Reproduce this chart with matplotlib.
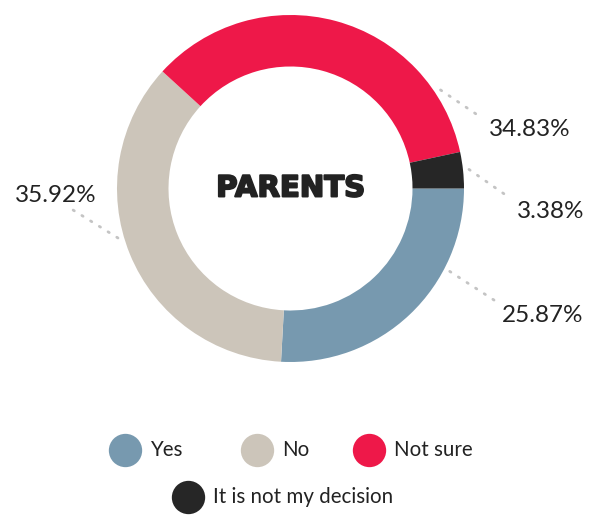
import numpy as np
import matplotlib
matplotlib.use("Agg")
import matplotlib.pyplot as plt
import matplotlib.patheffects as pe

categories = ["Yes", "No", "Not sure", "It is not my decision"]
shares = [25.87, 35.92, 34.83, 3.38]
colors = ["#7799af", "#ccc5ba", "#ee1849", "#262626"]

# label layout (pixel space, y up): leader start angle, leader end, text anchor
leader_angle = [-27.5, 196, 33.3, 6.1]
leader_end = [(497, 213), (73, 305), (482, 397), (510, 317)]
text_pos = [(502, 199), (97, 319), (489, 385), (517, 304)]
text_ha = ["left", "right", "left", "left"]

W, H = 592, 515
cx, cy, R = 290.5, 326.5, 173.5

fig = plt.figure(figsize=(W / 100, H / 100), dpi=100)
ax = fig.add_axes([0, 0, 1, 1])

ax.pie(shares, colors=colors, startangle=0, counterclock=False,
       center=(cx, cy), radius=R, frame=True,
       wedgeprops=dict(width=51.5, linewidth=0))
ax.set_xlim(0, W)
ax.set_ylim(0, H)
ax.set_aspect("equal")
ax.axis("off")

ax.text(cx, cy, "PARENTS", ha="center", va="center", fontsize=21,
        fontweight="bold", family="DejaVu Sans", color="#222222",
        path_effects=[pe.withStroke(linewidth=1.4, foreground="#222222")])

for share, ang, end, pos, ha in zip(shares, leader_angle, leader_end, text_pos, text_ha):
    a = np.deg2rad(ang)
    sx, sy = cx + (R + 6) * np.cos(a), cy + (R + 6) * np.sin(a)
    ax.plot([sx, end[0]], [sy, end[1]], color="#c4c4c4", lw=2,
            linestyle=(0, (0.5, 3.2)), dash_capstyle="round")
    ax.text(pos[0], pos[1], f"{share:.2f}%", ha=ha, va="center",
            fontsize=17.5, family="Lato", color="#222222")

# legend: three on first row, last one centered below
legend_xy = [(125, 65), (257, 65), (369, 65), (188, 18)]
for cat, col, (lx, ly) in zip(categories, colors, legend_xy):
    ax.scatter([lx], [ly], s=24 ** 2, color=col, linewidths=0, clip_on=False)
    ax.text(lx + 25, ly, cat, ha="left", va="center", fontsize=14.8,
            family="Lato", color="#222222")

fig.savefig("out.png", dpi=100)
